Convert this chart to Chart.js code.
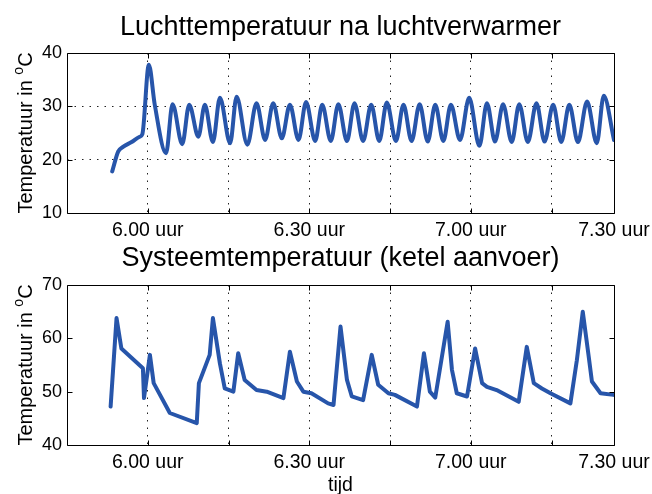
<!DOCTYPE html>
<html>
<head>
<meta charset="utf-8">
<title>Luchttemperatuur en systeemtemperatuur</title>
<script src="https://cdn.jsdelivr.net/npm/chart.js@4.4.1/dist/chart.umd.min.js"></script>
<style>
  html, body { margin: 0; padding: 0; background: #fff; }
  #wrap { position: relative; width: 652px; height: 494px; }
  #wrap canvas { position: absolute; left: 0; }
  #lucht { top: 0; }
  #systeem { top: 240px; }
</style>
</head>
<body>
<div id="wrap">
  <canvas id="lucht" width="652" height="240"></canvas>
  <canvas id="systeem" width="652" height="254"></canvas>
</div>
<script>
// times are minutes relative to 6.00 uur
var luchtTijd = [-6.6, -5.5, -4.6, -3.0, -1.5, -1.0, 0.2, 1.3, 3.4, 4.6, 6.4, 7.7, 9.4, 10.6, 12.1, 13.4,
    15.3, 16.5, 18.5, 20.2, 21.8, 23.3, 24.9, 26.4, 28.0, 29.4, 31.1, 32.4, 34.0, 35.4, 37.0, 38.4,
    40.0, 41.5, 43.0, 44.4, 46.1, 47.5, 49.0, 50.5, 52.0, 53.4, 54.9, 56.3, 58.0, 59.7, 61.6, 63.0,
    64.5, 66.0, 67.6, 69.0, 70.6, 72.2, 73.7, 75.3, 76.8, 78.3, 79.9, 81.6, 83.4, 84.7, 86.6];
var luchtTemp = [17.8, 21.5, 22.4, 23.3, 24.3, 24.8, 37.8, 30.3, 21.2, 30.4, 22.9, 30.3, 24.3, 30.3, 23.3, 31.6,
    23.1, 31.8, 22.8, 30.6, 23.7, 30.6, 24.0, 30.3, 23.7, 30.8, 23.5, 30.3, 23.5, 30.4, 23.5, 30.6,
    23.5, 30.3, 23.5, 30.7, 23.5, 30.3, 23.5, 30.4, 23.4, 30.3, 23.5, 30.3, 23.7, 31.6, 22.6, 30.6,
    23.4, 30.4, 23.3, 30.4, 23.3, 30.6, 23.4, 30.3, 23.3, 30.3, 23.3, 30.9, 23.1, 32.0, 23.7];

var systeemTijd = [-6.9, -5.8, -4.9, -0.9, -0.7, 0.4, 1.1, 4.1, 9.1, 9.5, 11.5, 12.1, 13.4, 14.3, 15.9, 16.8,
    18.0, 20.2, 22.1, 25.2, 26.4, 27.7, 28.9, 30.4, 33.5, 34.5, 35.8, 37.0, 37.9, 40.0, 41.6, 42.8,
    44.7, 45.9, 50.0, 51.3, 52.4, 53.4, 55.7, 56.5, 57.4, 59.3, 60.8, 62.1, 63.0, 64.8, 68.9, 70.4,
    71.7, 73.2, 74.8, 78.5, 79.7, 80.8, 81.9, 82.5, 84.1, 86.5];
var systeemTemp = [47.2, 63.8, 58.1, 54.4, 48.8, 56.9, 51.6, 46.0, 44.1, 51.6, 56.9, 63.8, 55.3, 50.6, 50.0, 57.2,
    52.2, 50.3, 50.0, 48.8, 57.5, 51.9, 50.0, 49.7, 47.8, 47.5, 62.2, 52.2, 49.1, 48.4, 56.9, 51.3,
    49.7, 49.4, 47.2, 57.2, 50.0, 48.9, 63.1, 54.1, 49.7, 49.1, 58.1, 51.6, 50.9, 50.3, 48.1, 58.4,
    51.6, 50.6, 49.7, 47.8, 55.9, 65.0, 56.6, 51.9, 49.7, 49.4];

// quarter-hour ticks, labelled on the half hours; the last label sits at the end of the record
var tijdTicks = [0, 15, 30, 45, 60, 75, 86.6];
var tijdLabels = ['6.00 uur', '', '6.30 uur', '', '7.00 uur', '', '7.30 uur'];
var tijdMin = -15;
var tijdMax = 86.6;

var luchtYTicks = [10, 20, 30, 40];
var systeemYTicks = [40, 50, 60, 70];

var FONT = '"Liberation Sans", Arial, Helvetica, sans-serif';
var LIJN = '#2755aa';

// closed axes box with short tick marks pointing inwards on all four sides
var kaderPlugin = {
    id: 'kader',
    afterDatasetsDraw: function(chart) {
        var ctx = chart.ctx;
        var a = chart.chartArea;
        var xs = chart.scales.x, ys = chart.scales.y;
        var l = Math.round(a.left) + 0.5, r = Math.round(a.right) + 0.5;
        var t = Math.round(a.top) + 0.5, b = Math.round(a.bottom) + 0.5;
        ctx.save();
        ctx.strokeStyle = '#000';
        ctx.lineWidth = 1;
        ctx.beginPath();
        ctx.rect(l, t, r - l, b - t);
        xs.ticks.forEach(function(tick) {
            var px = Math.round(xs.getPixelForValue(tick.value)) + 0.5;
            ctx.moveTo(px, b); ctx.lineTo(px, b - 5);
            ctx.moveTo(px, t); ctx.lineTo(px, t + 5);
        });
        ys.ticks.forEach(function(tick) {
            var py = Math.round(ys.getPixelForValue(tick.value)) + 0.5;
            ctx.moveTo(l, py); ctx.lineTo(l + 5, py);
            ctx.moveTo(r, py); ctx.lineTo(r - 5, py);
        });
        ctx.stroke();
        ctx.restore();
    }
};

// rotated y label with a superscript "o" before the C
var yLabelPlugin = {
    id: 'yLabel',
    afterDraw: function(chart, args, opts) {
        var ctx = chart.ctx;
        var a = chart.chartArea;
        var hoofd = 'Temperatuur in ', sup = 'o', eenheid = 'C';
        ctx.save();
        ctx.fillStyle = '#000';
        ctx.textBaseline = 'alphabetic';
        ctx.font = '20px ' + FONT;
        var w1 = ctx.measureText(hoofd).width;
        var w3 = ctx.measureText(eenheid).width;
        ctx.font = '14px ' + FONT;
        var w2 = ctx.measureText(sup).width;
        var start = -(w1 + w2 + w3) / 2;
        ctx.translate(opts.x, (a.top + a.bottom) / 2);
        ctx.rotate(-Math.PI / 2);
        ctx.font = '20px ' + FONT;
        ctx.fillText(hoofd, start, 0);
        ctx.fillText(eenheid, start + w1 + w2, 0);
        ctx.font = '14px ' + FONT;
        ctx.fillText(sup, start + w1, -9);
        ctx.restore();
    }
};

function punten(tijd, waarden) {
    return tijd.map(function(t, i) { return {x: t, y: waarden[i]}; });
}

function maakGrafiek(canvasId, params) {
    var tijdAs = {
        type: 'linear',
        min: tijdMin,
        max: tijdMax,
        afterBuildTicks: function(scale) {
            scale.ticks = tijdTicks.map(function(v) { return {value: v}; });
        },
        afterFit: function(scale) {
            scale.height = params.xHoogte;
            scale.paddingLeft = 0;
            scale.paddingRight = 0;
        },
        ticks: {
            autoSkip: false,
            maxRotation: 0,
            padding: 5.5,
            color: '#000',
            font: {family: FONT, size: 19.5},
            callback: function(value) {
                var i = tijdTicks.indexOf(value);
                return i >= 0 ? tijdLabels[i] : '';
            }
        },
        grid: {
            drawTicks: false,
            lineWidth: 1,
            color: function(c) {
                return (c.tick && c.tick.value < tijdMax) ? '#222' : 'rgba(0,0,0,0)';
            }
        },
        border: {display: false, dash: [1.5, 6]},
        title: params.xTitel ? {
            display: true,
            text: params.xTitel,
            color: '#000',
            font: {family: FONT, size: 19.5},
            padding: {top: 0, bottom: -3}
        } : {display: false}
    };

    var yTicks = params.yTicks;
    var tempAs = {
        type: 'linear',
        min: yTicks[0],
        max: yTicks[yTicks.length - 1],
        afterBuildTicks: function(scale) {
            scale.ticks = yTicks.map(function(v) { return {value: v}; });
        },
        afterFit: function(scale) {
            scale.width = 67;
            scale.paddingTop = 0;
            scale.paddingBottom = 0;
        },
        ticks: {
            padding: 5,
            color: '#000',
            font: {family: FONT, size: 18}
        },
        grid: {
            display: params.yRaster,
            drawTicks: false,
            lineWidth: 1,
            color: function(c) {
                var v = c.tick ? c.tick.value : null;
                return (v !== null && v > yTicks[0] && v < yTicks[yTicks.length - 1]) ? '#222' : 'rgba(0,0,0,0)';
            }
        },
        border: {display: false, dash: [1.5, 6]}
    };

    return new Chart(document.getElementById(canvasId), {
        type: 'line',
        data: {
            datasets: [{
                data: punten(params.tijd, params.waarden),
                borderColor: LIJN,
                borderWidth: 4,
                borderJoinStyle: 'round',
                borderCapStyle: 'round',
                pointRadius: 0,
                fill: false,
                tension: params.monotoon ? 0.4 : 0,
                cubicInterpolationMode: params.monotoon ? 'monotone' : 'default'
            }]
        },
        options: {
            responsive: false,
            animation: false,
            devicePixelRatio: 1,
            layout: {padding: {left: 0, right: 38, top: 0, bottom: 0}},
            scales: {x: tijdAs, y: tempAs},
            plugins: {
                legend: {display: false},
                tooltip: {enabled: false},
                // not full width, so the title is centred over the plot area
                title: {
                    display: true,
                    fullSize: false,
                    text: params.titel,
                    color: '#000',
                    font: {family: FONT, size: 27, weight: 'normal'},
                    padding: params.titelPadding
                },
                yLabel: {x: 32}
            }
        },
        plugins: [kaderPlugin, yLabelPlugin]
    });
}

maakGrafiek('lucht', {
    titel: 'Luchttemperatuur na luchtverwarmer',
    titelPadding: {top: 11, bottom: 9.6},
    tijd: luchtTijd,
    waarden: luchtTemp,
    yTicks: luchtYTicks,
    yRaster: true,
    monotoon: true,
    xHoogte: 27
});

maakGrafiek('systeem', {
    titel: 'Systeemtemperatuur (ketel aanvoer)',
    titelPadding: {top: 2.5, bottom: 10.1},
    tijd: systeemTijd,
    waarden: systeemTemp,
    yTicks: systeemYTicks,
    yRaster: false,
    monotoon: false,
    xHoogte: 49,
    xTitel: 'tijd'
});
</script>
</body>
</html>
